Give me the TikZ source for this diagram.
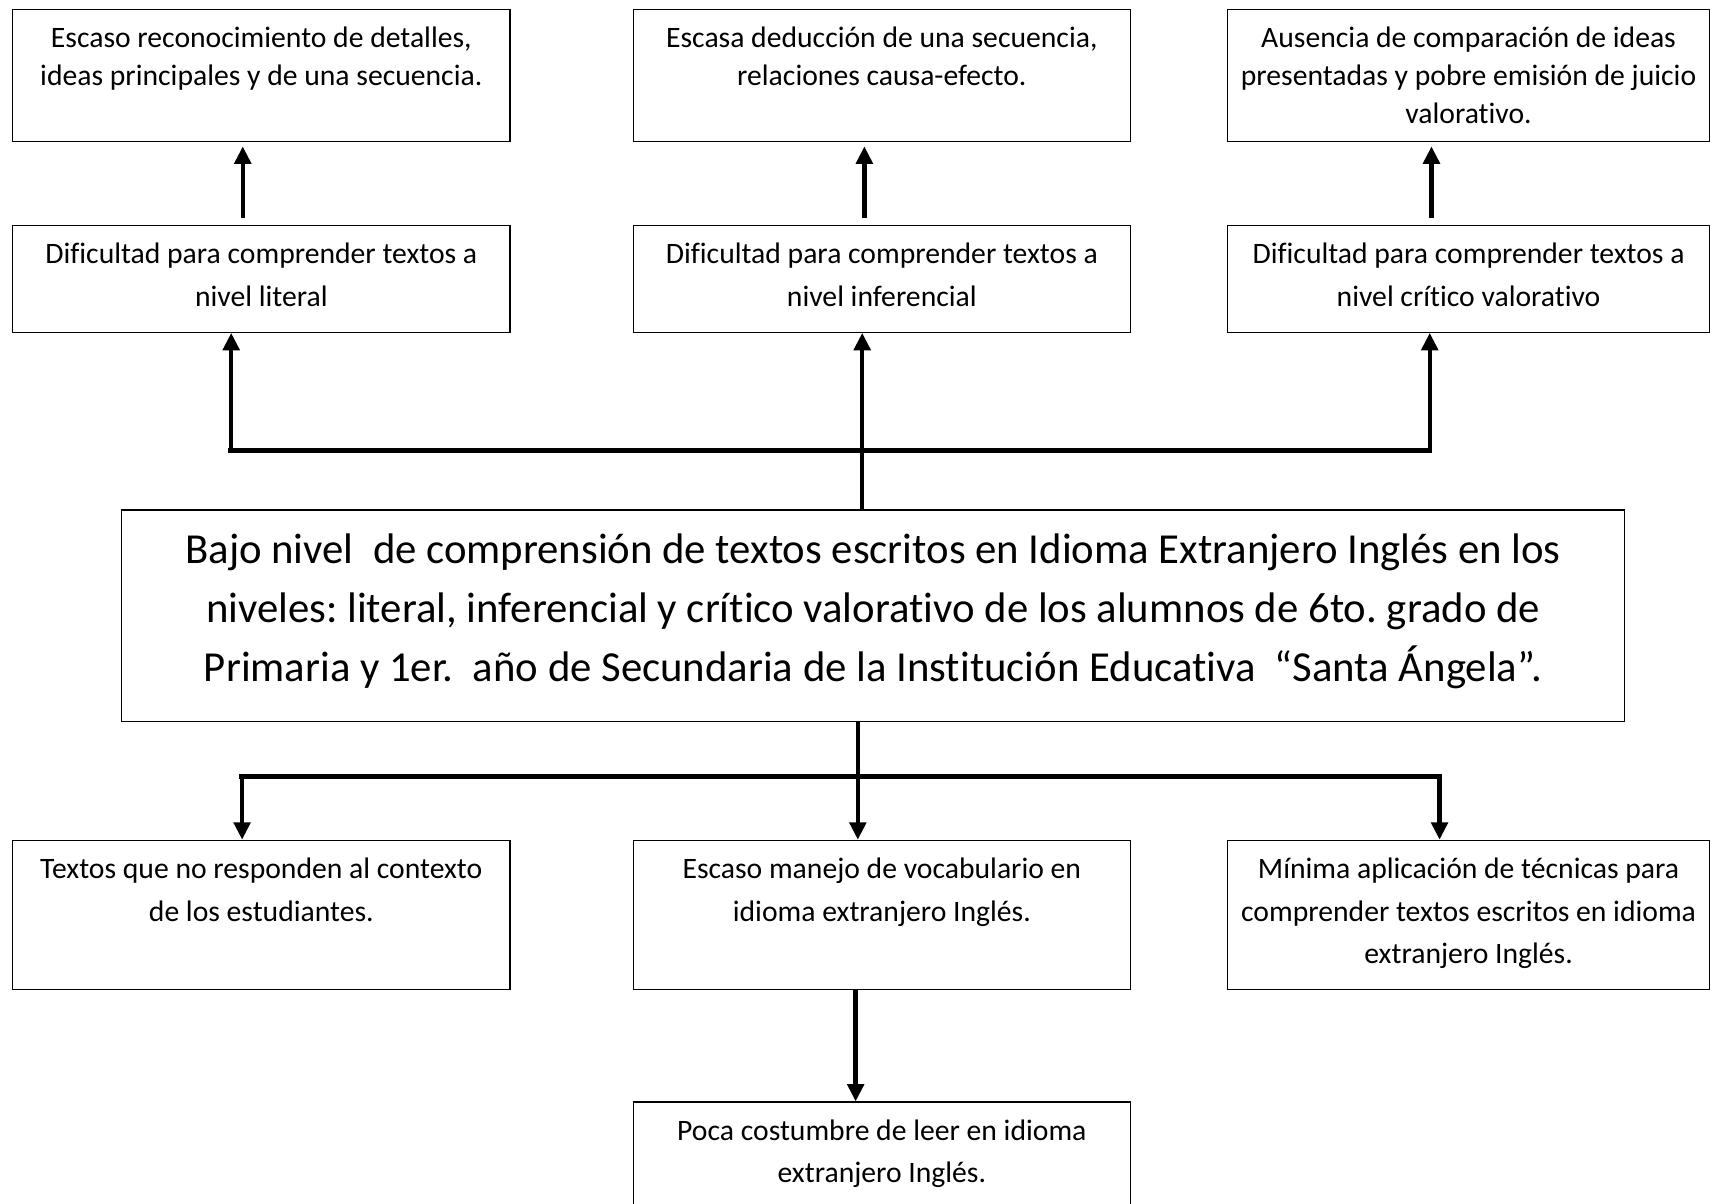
\documentclass[tikz,border=0pt]{standalone}
\usepackage{fontspec}
\setmainfont{Carlito}[Ligatures=NoCommon]
\usetikzlibrary{arrows.meta,positioning,calc}
\frenchspacing

\begin{document}
\begin{tikzpicture}[x=1pt,y=-1pt,
    cbox/.style 2 args={draw,line width=1.2pt,inner sep=0pt,anchor=north west,
      font=\fontsize{27.2}{39}\selectfont,
      execute at begin node={\begin{minipage}[c][#2][t]{#1}\centering\rule{0pt}{35pt}},
      execute at end node={\end{minipage}}},
    tight/.style={font=\fontsize{27.2}{35}\selectfont},
    prob/.style={draw,line width=1.2pt,inner sep=0pt,anchor=north west,
      font=\fontsize{39.2}{54}\selectfont,
      execute at begin node={\begin{minipage}[c][194pt][t]{1378pt}\centering\rule{0pt}{49pt}},
      execute at end node={\end{minipage}}},
    link/.style={line width=4pt,-{Triangle[width=15pt,length=16pt]}},
    bus/.style={line width=5pt,line cap=rect}
  ]
  \useasboundingbox (0,0) rectangle (1568,1104);
  % efectos
  \node[cbox={456pt}{121pt},tight] (dlit) at (11,8)   {Escaso reconocimiento de detalles,\\ ideas principales y de una secuencia.};
  \node[cbox={456pt}{121pt},tight] (dinf) at (580,8)  {Escasa deducción de una secuencia,\\ relaciones causa-efecto.};
  \node[cbox={442pt}{121pt},tight] (dcri) at (1125,8) {Ausencia de comparación de ideas\\ presentadas y pobre emisión de juicio\\ valorativo.};
  \node[cbox={456pt}{98pt}] (lit) at (11,206)   {Dificultad para comprender textos a\\ nivel literal};
  \node[cbox={456pt}{98pt}] (inf) at (580,206)  {Dificultad para comprender textos a\\ nivel inferencial};
  \node[cbox={442pt}{98pt}] (cri) at (1125,206) {Dificultad para comprender textos a\\ nivel crítico valorativo};
  % problema
  \node[prob] (pb) at (111,467) {Bajo nivel~ de comprensión de textos escritos en Idioma Extranjero Inglés en los\\ niveles: literal, inferencial y crítico valorativo de los alumnos de 6to. grado de\\ Primaria y 1er.~ año de Secundaria de la Institución Educativa~ “Santa Ángela”.};
  % causas
  \node[cbox={456pt}{137pt}] (ctx) at (11,770)   {Textos que no responden al contexto\\ de los estudiantes.};
  \node[cbox={456pt}{137pt}] (voc) at (580,770)  {Escaso manejo de vocabulario en\\ idioma extranjero Inglés.};
  \node[cbox={442pt}{137pt}] (tec) at (1125,770) {Mínima aplicación de técnicas para\\ comprender textos escritos en idioma\\ extranjero Inglés.};
  \node[cbox={456pt}{130pt}] (hab) at (580,1010) {Poca costumbre de leer en idioma\\ extranjero Inglés.};

  \coordinate (ua) at (212,413); \coordinate (uc) at (1311,413);
  \coordinate (la) at (222,712); \coordinate (lc) at (1320,712);

  \draw[link,shorten <=6pt,shorten >=4pt] ([xshift=-17pt]lit.north) -- ([xshift=-17pt]dlit.south);
  \draw[link,shorten <=6pt,shorten >=4pt] ([xshift=-16pt]inf.north) -- ([xshift=-16pt]dinf.south);
  \draw[link,shorten <=6pt,shorten >=4pt] ([xshift=-34pt]cri.north) -- ([xshift=-34pt]dcri.south);

  \draw[bus] (ua) -- (uc);
  \draw[link] (ua) -- (ua |- lit.south);
  \draw[link] (uc) -- (uc |- cri.south);
  \draw[link] ([xshift=-10pt]pb.north) -- ([xshift=-10pt]pb.north |- inf.south);

  \draw[bus] (la) -- (lc);
  \draw[link] (la) -- (la |- ctx.north);
  \draw[link] (lc) -- (lc |- tec.north);
  \draw[link] ([xshift=-14pt]pb.south) -- ([xshift=-14pt]pb.south |- voc.north);
  \draw[link] ([xshift=-24pt]voc.south) -- ([xshift=-24pt]hab.north);
\end{tikzpicture}
\end{document}
